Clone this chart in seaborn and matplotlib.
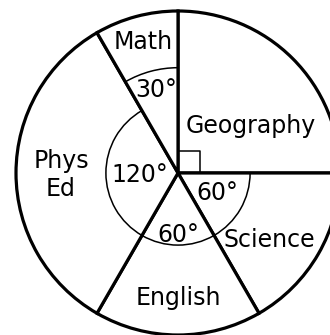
import matplotlib
matplotlib.use("Agg")
import matplotlib.pyplot as plt
from matplotlib.patches import Arc
import seaborn as sns

# data
subjects = ["Geography", "Science", "English", "Phys\nEd", "Math"]
degrees = [90, 60, 60, 120, 30]

# where the names and angle labels sit (data coords, circle radius = 1)
name_pos = [(0.451, 0.247), (0.562, -0.457), (0.0, -0.815), (-0.722, -0.012), (-0.216, 0.765)]
angle_pos = [None, (0.241, -0.167), (0.0, -0.426), (-0.235, -0.056), (-0.136, 0.469)]

sns.set_style("white")
plt.rcParams["font.family"] = ["DejaVu Sans"]
plt.rcParams["text.color"] = "black"

fig = plt.figure(figsize=(3.3, 3.35), dpi=100)
ax = fig.add_axes([0, 0, 1, 1])

ax.pie(degrees, startangle=90, counterclock=False, radius=1,
       colors=["white"] * len(degrees),
       wedgeprops=dict(edgecolor="black", linewidth=2.3))

# angle arcs
ax.add_patch(Arc((0, 0), 0.89, 0.89, theta1=120, theta2=360, color="black", lw=1.1))
ax.add_patch(Arc((0, 0), 1.30, 1.30, theta1=90, theta2=120, color="black", lw=1.1))

# right angle marker for Geography
s = 0.136
ax.plot([0, s, s], [s, s, 0], color="black", lw=1.1)

for i, name in enumerate(subjects):
    x, y = name_pos[i]
    va = "center" if "\n" in name else "baseline"
    ax.text(x, y, name, ha="center", va=va, fontsize=17, linespacing=1.2, color="black")
    if angle_pos[i] is not None:
        ax.text(angle_pos[i][0], angle_pos[i][1], f"{degrees[i]}°",
                ha="center", va="baseline", fontsize=17, color="black")

cx, cy, r = 178, 173, 162
ax.set_xlim(-cx / r, (330 - cx) / r)
ax.set_ylim(-(335 - cy) / r, cy / r)
ax.set_aspect("auto")
ax.axis("off")

fig.savefig("out.png", dpi=100)
